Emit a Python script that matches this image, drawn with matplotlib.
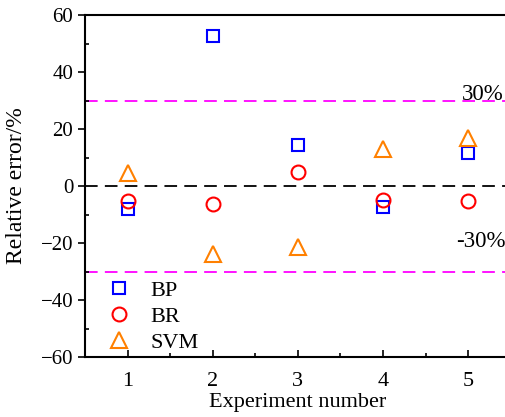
import numpy as np
import matplotlib.pyplot as plt
from matplotlib.ticker import MultipleLocator

plt.rcParams['font.family'] = ['Liberation Serif', 'DejaVu Serif']

experiments = [1, 2, 3, 4, 5]
bp = [-8.0, 52.6, 14.4, -7.3, 11.7]
br = [-5.2, -6.3, 5.0, -4.9, -5.3]
svm = [4.7, -23.9, -21.3, 12.9, 17.0]

fig = plt.figure(figsize=(5.06, 4.17), dpi=100)
ax = fig.add_axes([85 / 506, 1 - 357 / 417, 425.7 / 506, 342 / 417])

# error bands
ax.axhline(30, color='magenta', ls=(0, (7, 4)), lw=1.3, zorder=1)
ax.axhline(-30, color='magenta', ls=(0, (7, 4)), lw=1.3, zorder=1)
ax.axhline(0, color='black', ls=(0, (7, 4)), lw=1.3, zorder=1)

ax.plot(experiments, bp, 's', ms=8.5, mfc='none', mec='blue', mew=1.5, label='BP')
ax.plot(experiments, br, 'o', ms=10, mfc='none', mec='red', mew=1.5, label='BR')
ax.plot(experiments, svm, '^', ms=11, mfc='none', mec='#ff8000', mew=1.5, label='SVM')

ax.text(4.93, 30.2, '30%', fontsize=16.5, ha='left', va='baseline')
ax.text(4.86, -21.5, '-30%', fontsize=16.5, ha='left', va='baseline')

ax.set_xlim(0.5, 5.5)
ax.set_ylim(-60, 60)
ax.xaxis.set_major_locator(MultipleLocator(1))
ax.xaxis.set_minor_locator(MultipleLocator(0.5))
ax.yaxis.set_major_locator(MultipleLocator(20))
ax.yaxis.set_minor_locator(MultipleLocator(10))
ax.tick_params(axis='x', which='both', direction='in', labelsize=16, pad=11)
ax.tick_params(axis='x', which='major', length=5, width=1.2)
ax.tick_params(axis='x', which='minor', length=3, width=1.2)
ax.tick_params(axis='y', which='major', direction='out', labelsize=15, length=5, width=1.2)
ax.tick_params(axis='y', which='minor', direction='in', length=3, width=1.2)
for s in ax.spines.values():
    s.set_linewidth(1.5)

ax.set_xlabel('Experiment number', fontsize=16, labelpad=1)
ax.set_ylabel('Relative error/%', fontsize=17, labelpad=10)

ax.legend(loc='lower left', frameon=False, fontsize=16, handlelength=1.2,
          handletextpad=0.8, labelspacing=0.25, borderpad=0, borderaxespad=0,
          bbox_to_anchor=(0.049, 0.012))

fig.savefig('out.png', dpi=100)
